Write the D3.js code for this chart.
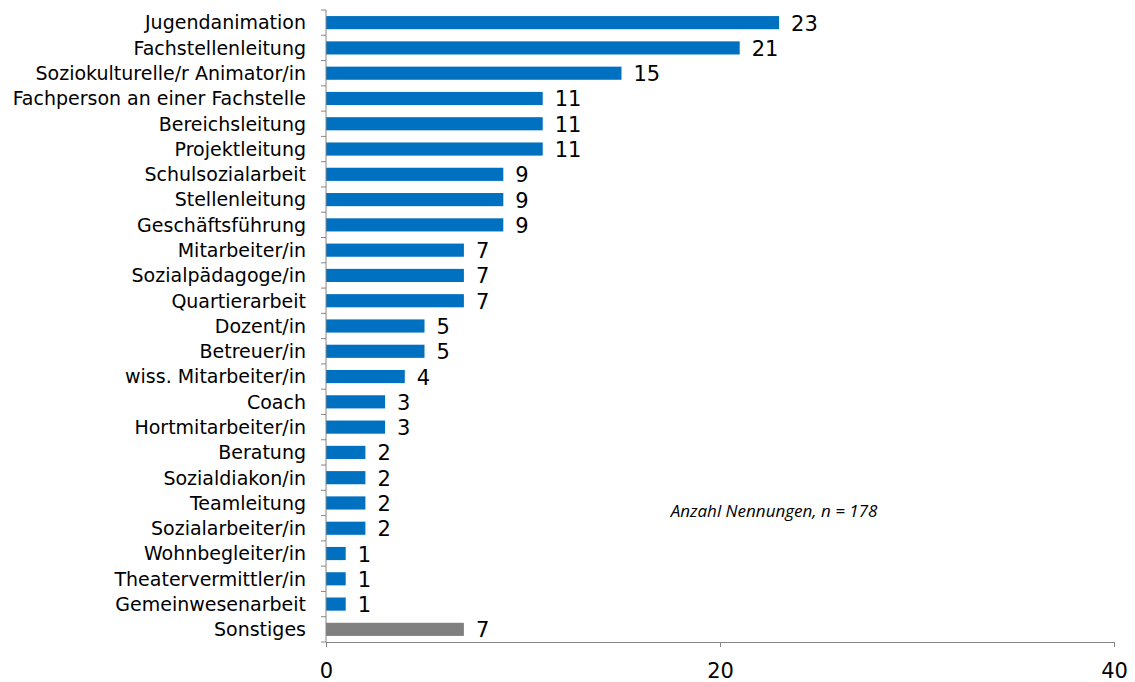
<!DOCTYPE html>
<html>
<head>
<meta charset="utf-8">
<script src="https://cdn.jsdelivr.net/npm/d3@7"></script>
<style>
  body { margin: 0; background: #fff; }
  svg { display: block; }
</style>
</head>
<body>
<div id="chart"></div>
<script>
// Categories, top to bottom
const categories = [
  "Jugendanimation", "Fachstellenleitung", "Soziokulturelle/r Animator/in",
  "Fachperson an einer Fachstelle", "Bereichsleitung", "Projektleitung",
  "Schulsozialarbeit", "Stellenleitung", "Geschäftsführung", "Mitarbeiter/in",
  "Sozialpädagoge/in", "Quartierarbeit", "Dozent/in", "Betreuer/in",
  "wiss. Mitarbeiter/in", "Coach", "Hortmitarbeiter/in", "Beratung",
  "Sozialdiakon/in", "Teamleitung", "Sozialarbeiter/in", "Wohnbegleiter/in",
  "Theatervermittler/in", "Gemeinwesenarbeit", "Sonstiges"
];
const values = [23, 21, 15, 11, 11, 11, 9, 9, 9, 7, 7, 7, 5, 5, 4, 3, 3, 2, 2, 2, 2, 1, 1, 1, 7];
const xTicks = [0, 20, 40];
const note = "Anzahl Nennungen, n = 178";

const data = categories.map((c, i) => ({ cat: c, value: values[i] }));

const width = 1135;
const height = 682;
const margin = { top: 10, right: 21, bottom: 40, left: 326 };
const font = "'DejaVu Sans', Verdana, sans-serif";

const svg = d3.select("#chart")
  .append("svg")
  .attr("width", width)
  .attr("height", height);

const x = d3.scaleLinear()
  .domain([0, 40])
  .range([margin.left, width - margin.right]);

const y = d3.scaleBand()
  .domain(categories)
  .range([margin.top, height - margin.bottom])
  .paddingInner(0.48)
  .paddingOuter(0.24);

const band = y.step();

// Bars
svg.selectAll("rect.bar")
  .data(data)
  .join("rect")
  .attr("class", "bar")
  .attr("x", x(0))
  .attr("y", d => y(d.cat))
  .attr("width", d => x(d.value) - x(0))
  .attr("height", y.bandwidth())
  .attr("fill", d => d.cat === "Sonstiges" ? "#808080" : "#0070c0");

// Value labels
svg.selectAll("text.val")
  .data(data)
  .join("text")
  .attr("class", "val")
  .attr("x", d => x(d.value) + 12)
  .attr("y", d => y(d.cat) + y.bandwidth() / 2)
  .attr("dy", "0.38em")
  .style("font-family", font)
  .style("font-size", "21px")
  .attr("fill", "#000")
  .text(d => d.value);

// Y axis: line, boundary ticks, labels
const yAxis = svg.append("g");
yAxis.append("line")
  .attr("x1", x(0)).attr("x2", x(0))
  .attr("y1", margin.top).attr("y2", height - margin.bottom)
  .attr("stroke", "#868686");
yAxis.selectAll("line.tk")
  .data(d3.range(categories.length + 1))
  .join("line")
  .attr("class", "tk")
  .attr("x1", x(0) - 5).attr("x2", x(0))
  .attr("y1", i => margin.top + i * band)
  .attr("y2", i => margin.top + i * band)
  .attr("stroke", "#868686");
yAxis.selectAll("text")
  .data(categories)
  .join("text")
  .attr("x", x(0) - 20)
  .attr("y", d => y(d) + y.bandwidth() / 2)
  .attr("dy", "0.36em")
  .attr("text-anchor", "end")
  .style("font-family", font)
  .style("font-size", "19px")
  .attr("fill", "#000")
  .text(d => d);

// X axis
const xAxis = svg.append("g")
  .attr("transform", `translate(0,${height - margin.bottom})`)
  .call(d3.axisBottom(x).tickValues(xTicks).tickSize(5).tickPadding(16).tickSizeOuter(0));
xAxis.select(".domain").attr("stroke", "#868686");
xAxis.selectAll(".tick line").attr("stroke", "#868686");
xAxis.selectAll(".tick text")
  .style("font-family", font)
  .style("font-size", "21px")
  .attr("fill", "#000");

// Note
svg.append("text")
  .attr("x", 774)
  .attr("y", 517)
  .attr("text-anchor", "middle")
  .style("font-family", "'Open Sans', sans-serif")
  .style("font-style", "italic")
  .style("font-size", "17px")
  .attr("fill", "#000")
  .text(note);
</script>
</body>
</html>
